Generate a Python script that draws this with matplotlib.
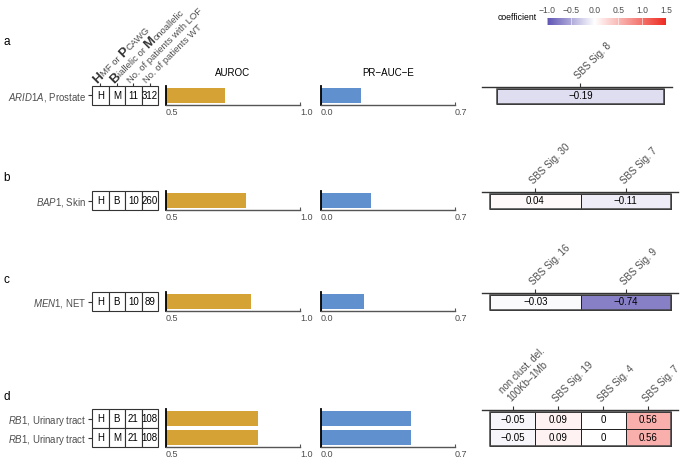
import matplotlib
matplotlib.use("Agg")
import matplotlib.pyplot as plt
import numpy as np
from matplotlib.colors import LinearSegmentedColormap, Normalize

# figure size in pixels
W, H = 681, 465

plt.rcParams['font.family'] = ['Liberation Sans', 'DejaVu Sans']
plt.rcParams['mathtext.fontset'] = 'custom'
plt.rcParams['mathtext.rm'] = 'Liberation Sans'
plt.rcParams['mathtext.it'] = 'Liberation Sans:italic'
plt.rcParams['mathtext.bf'] = 'Liberation Sans:bold'

# ---- data ----
panel = ["a", "b", "c", "d", "d"]
genes = ["ARID1A", "BAP1", "MEN1", "RB1", "RB1"]
tissues = ["Prostate", "Skin", "NET", "Urinary tract", "Urinary tract"]
cohort = ["H", "H", "H", "H", "H"]
allelic = ["M", "B", "B", "B", "M"]
n_lof = [11, 10, 10, 21, 21]
n_wt = [312, 260, 89, 108, 108]
auroc = [0.72, 0.798, 0.818, 0.844, 0.844]
pr_auc = [0.207, 0.259, 0.225, 0.468, 0.468]

features = {
    "a": ["SBS Sig. 8"],
    "b": ["SBS Sig. 30", "SBS Sig. 7"],
    "c": ["SBS Sig. 16", "SBS Sig. 9"],
    "d": ["non clust. del.\n100Kb\u20131Mb", "SBS Sig. 19", "SBS Sig. 4", "SBS Sig. 7"],
}
coefs = {
    "a": [[-0.19]],
    "b": [[0.04, -0.11]],
    "c": [[-0.03, -0.74]],
    "d": [[-0.05, 0.09, 0, 0.56],
          [-0.05, 0.09, 0, 0.56]],
}
cbar_ticks = [-1.0, -0.5, 0.0, 0.5, 1.0, 1.5]

# ---- layout (pixels) ----
panel_top = {"a": 86, "b": 191, "c": 292, "d": 409}
letter_y = {"a": 42, "b": 178, "c": 280, "d": 397}
ROW = 19
GOLD = "#D4A235"
BLUE = "#6190CE"
GREY = "#4d4d4d"

cmap = LinearSegmentedColormap.from_list(
    "coef", [(0.0, "#5E54B4"), (0.4, "#FFFFFF"), (1.0, "#EE2C22")])
norm = Normalize(-1.0, 1.5)

fig = plt.figure(figsize=(W / 100, H / 100), dpi=100)


def px_axes(x0, y0, x1, y1):
    return fig.add_axes([x0 / W, 1 - y1 / H, (x1 - x0) / W, (y1 - y0) / H])


def fmt(v):
    if v == 0:
        return "0"
    return ("%.2f" % v).replace("-", "\u2212")


def bar_axes(ax, vals, lo, hi, color, n):
    ax.barh(np.arange(n), np.array(vals) - lo, left=lo, height=0.74, color=color)
    ax.set_xlim(lo, hi)
    ax.set_ylim(n - 0.5, -0.5)
    ax.set_yticks([])
    ax.set_xticks([lo, hi])
    ax.set_xticklabels(["%.1f" % lo, "%.1f" % hi], ha="left")
    ax.tick_params(axis="x", direction="in", length=2, width=0.8, colors="#555555",
                   labelsize=6.5, labelcolor=GREY, pad=2)
    for s in ["top", "right"]:
        ax.spines[s].set_visible(False)
    ax.spines["left"].set_color("black")
    ax.spines["left"].set_linewidth(1.3)
    ax.spines["bottom"].set_color("#555555")
    ax.spines["bottom"].set_linewidth(1.0)
    ax.patch.set_alpha(0)


for p in ["a", "b", "c", "d"]:
    idx = [i for i, q in enumerate(panel) if q == p]
    n = len(idx)
    top = panel_top[p]
    bot = top + n * ROW

    fig.text(3 / W, 1 - letter_y[p] / H, p, fontsize=8.5, va="center", ha="left")

    # table with cohort / allelic / counts
    tab = px_axes(92, top, 158, bot)
    tab.set_xlim(0, 4)
    tab.set_ylim(n, 0)
    for s in tab.spines.values():
        s.set_visible(False)
    for r, i in enumerate(idx):
        cells = [cohort[i], allelic[i], str(n_lof[i]), str(n_wt[i])]
        for j, c in enumerate(cells):
            tab.add_patch(plt.Rectangle((j, r), 1, 1, facecolor="white",
                                        edgecolor="#333333", lw=0.8, clip_on=False))
            tab.text(j + 0.5, r + 0.52, c, ha="center", va="center", fontsize=7)
    tab.set_yticks(np.arange(n) + 0.5)
    tab.set_yticklabels([r"$\mathit{%s}$, %s" % (genes[i], tissues[i]) for i in idx])
    tab.tick_params(axis="y", length=3, width=0.8, colors="#333333",
                    labelsize=6.9, labelcolor=GREY, pad=1)
    if p == "a":
        tab.xaxis.tick_top()
        tab.set_xticks(np.arange(4) + 0.5)
        tab.set_xticklabels([])
        tab.tick_params(axis="x", length=2, width=0.8, colors="#333333")
    else:
        tab.set_xticks([])

    # AUROC and PR-AUC-E bars
    ax1 = px_axes(166, top, 300, bot)
    bar_axes(ax1, [auroc[i] for i in idx], 0.5, 1.0, GOLD, n)
    ax2 = px_axes(321, top, 455, bot)
    bar_axes(ax2, [pr_auc[i] for i in idx], 0.0, 0.7, BLUE, n)

    # coefficient heatmap
    feats = features[p]
    m = len(feats)
    if p == "a":
        ax_x0, ax_x1, c_x0, c_x1 = 482, 672, 497, 664
    else:
        ax_x0, ax_x1, c_x0, c_x1 = 482, 678, 490, 671
    cw = (c_x1 - c_x0) / m
    hm = px_axes(ax_x0, top + 1, ax_x1, bot)
    C = np.array(coefs[p])
    hm.pcolormesh(np.arange(m + 1) - 0.5, np.arange(n + 1) - 0.5, C, cmap=cmap,
                  norm=norm, edgecolors="#222222", linewidth=0.7)
    hm.add_patch(plt.Rectangle((-0.5, -0.5), m, n, fill=False,
                               edgecolor="#444444", lw=1.1))
    for r in range(n):
        for j in range(m):
            hm.text(j, r, fmt(C[r, j]), ha="center", va="center", fontsize=7)
    hm.set_xlim(-0.5 - (c_x0 - ax_x0) / cw, m - 0.5 + (ax_x1 - c_x1) / cw)
    hm.set_ylim(n - 0.5 + 0.05, -0.5 - 2.0 / ROW)
    hm.xaxis.tick_top()
    hm.set_xticks(np.arange(m))
    hm.set_xticklabels(feats, rotation=45, ha="left", va="bottom",
                       rotation_mode="anchor")
    hm.tick_params(axis="x", length=3, width=0.8, colors="#333333",
                   labelsize=7, labelcolor=GREY, pad=1.5)
    hm.set_yticks([])
    for s in ["bottom", "left", "right"]:
        hm.spines[s].set_visible(False)
    hm.spines["top"].set_color("#333333")
    hm.spines["top"].set_linewidth(1.0)

# column titles
fig.text(233 / W, 1 - 73 / H, "AUROC", ha="center", va="center", fontsize=7)
fig.text(388 / W, 1 - 73 / H, "PR\u2212AUC\u2212E", ha="center", va="center", fontsize=7)

# rotated header over the table, with large bold initials
renderer = fig.canvas.get_renderer()
REG = 6.8
BIG = 9.5
space_w = REG * 0.278 * 100 / 72


def rotated_label(x, y, pieces):
    ang = np.deg2rad(45)
    pos = 0.0
    for txt, size, bold, gap in pieces:
        pos += gap
        fig.text((x + pos * np.cos(ang)) / W, (H - y + pos * np.sin(ang)) / H, txt,
                 fontsize=size, fontweight="bold" if bold else "normal",
                 color="#333333" if bold else GREY,
                 rotation=45, rotation_mode="anchor", ha="left", va="baseline")
        tmp = fig.text(0, 0, txt, fontsize=size,
                       fontweight="bold" if bold else "normal")
        pos += tmp.get_window_extent(renderer).width
        tmp.remove()


hx = [92 + 16.5 * (j + 0.5) - 3 for j in range(4)]
hy = 84
rotated_label(hx[0], hy, [("H", BIG, True, 0), ("MF or", REG, False, 0.3),
                          ("P", BIG, True, space_w), ("CAWG", REG, False, 0.3)])
rotated_label(hx[1], hy, [("B", BIG, True, 0), ("iallelic or", REG, False, 0.3),
                          ("M", BIG, True, space_w), ("onoallelic", REG, False, 0.3)])
rotated_label(hx[2], hy, [("No. of patients with LOF", REG, False, 0)])
rotated_label(hx[3], hy, [("No. of patients WT", REG, False, 0)])

# colorbar legend
cb = px_axes(547, 18, 666, 25)
grad = np.linspace(-1.0, 1.5, 256).reshape(1, -1)
cb.imshow(grad, extent=[-1.0, 1.5, 0, 1], aspect="auto", cmap=cmap, norm=norm)
for t in cbar_ticks:
    cb.axvline(t, color="white", lw=0.5, alpha=0.8)
cb.set_xlim(-1.0, 1.5)
cb.set_yticks([])
cb.xaxis.tick_top()
cb.set_xticks(cbar_ticks)
cb.set_xticklabels([("%.1f" % t).replace("-", "\u2212") for t in cbar_ticks])
cb.tick_params(axis="x", length=0, labelsize=6.2, labelcolor=GREY, pad=2)
for s in cb.spines.values():
    s.set_visible(False)
fig.text(498 / W, 1 - 17 / H, "coefficient", ha="left", va="center", fontsize=6.2)

fig.savefig("out.png", dpi=100)
